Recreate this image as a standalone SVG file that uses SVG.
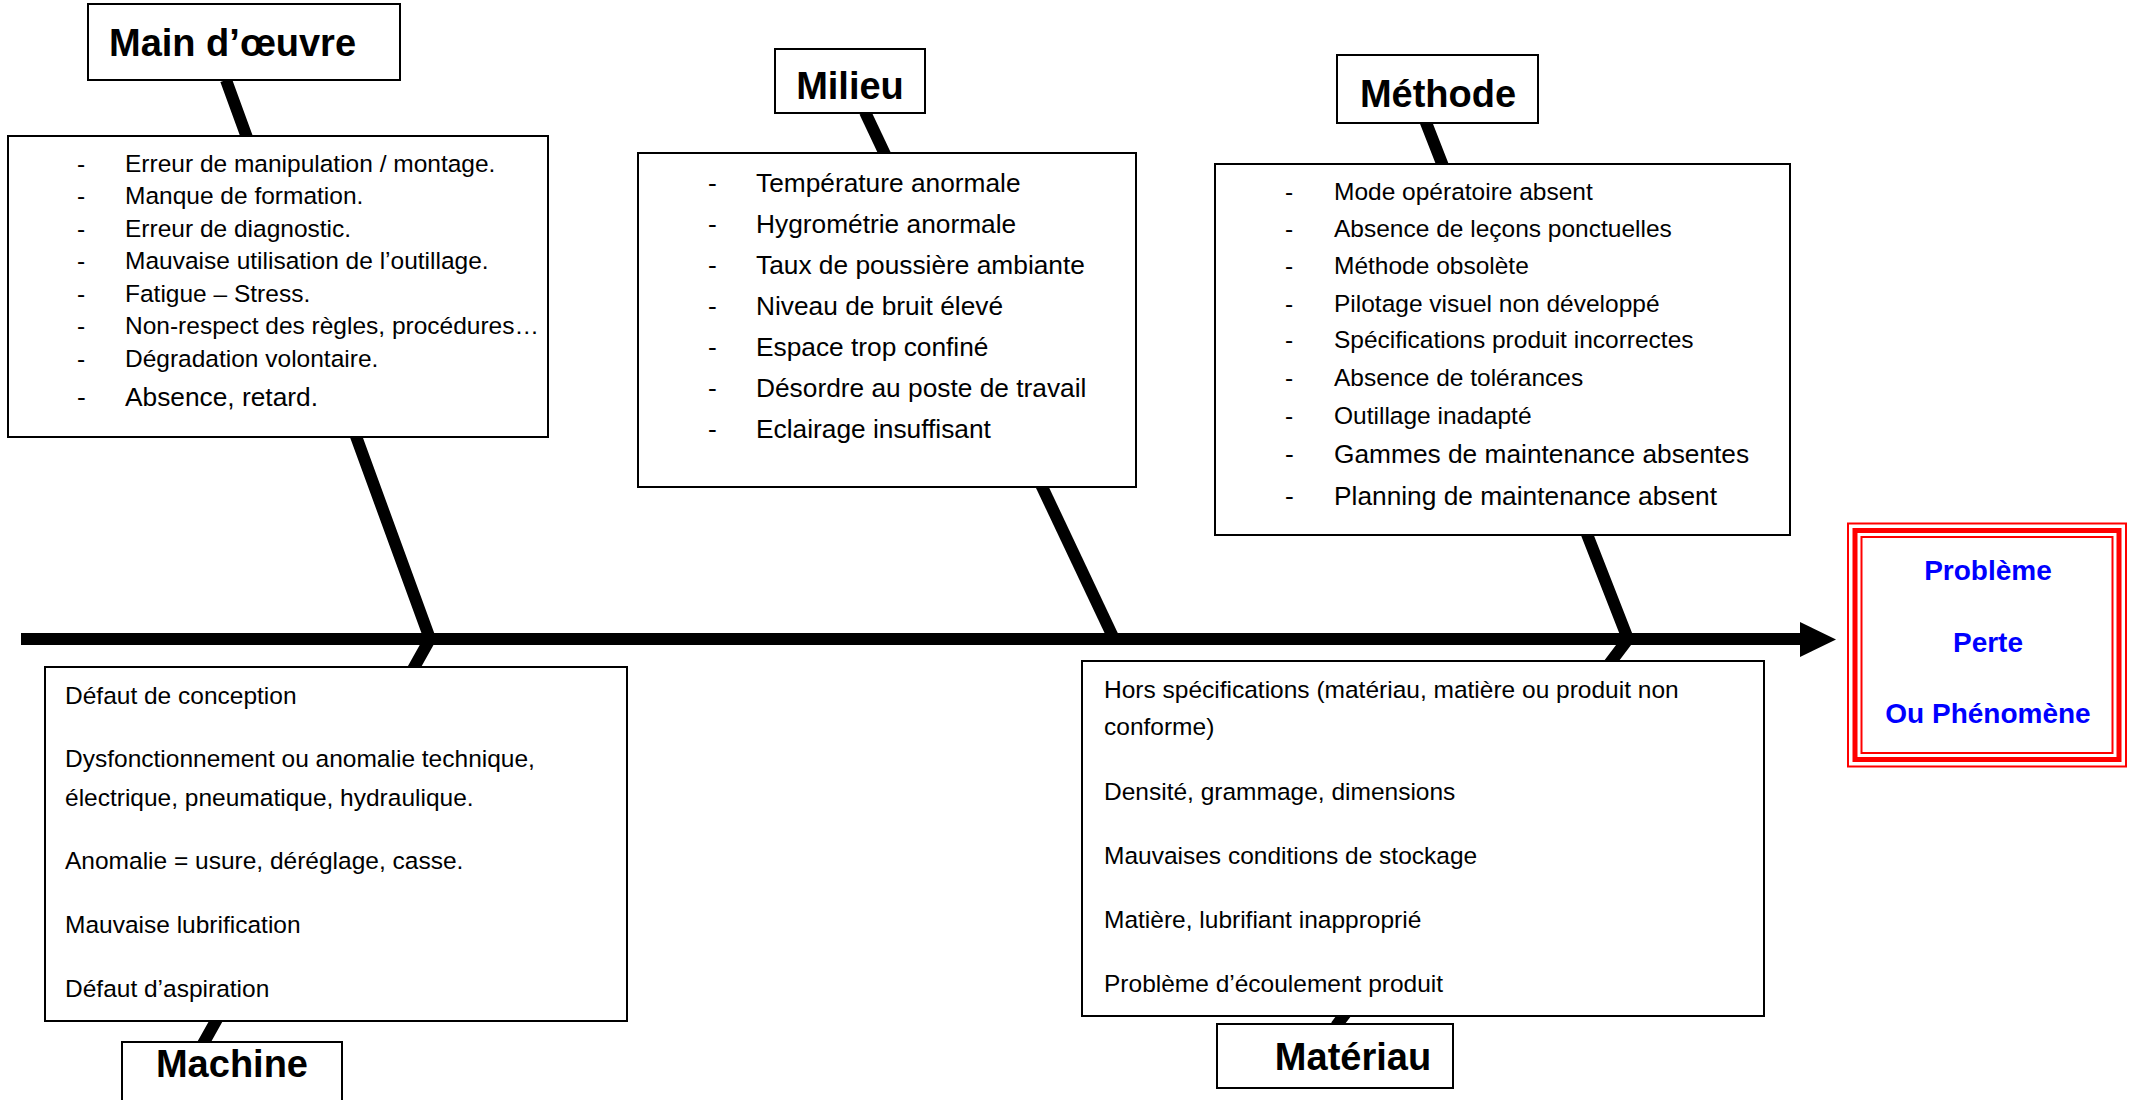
<svg xmlns="http://www.w3.org/2000/svg" width="2129" height="1100" viewBox="0 0 2129 1100">
  <defs>
    <style>
      .bg { fill: #ffffff; }
      .bone { fill: none; stroke: #000000; stroke-width: 12; stroke-linejoin: miter; stroke-miterlimit: 10; }
      .box { fill: #ffffff; stroke: #000000; stroke-width: 2; }
      .cat { font-family: "Liberation Sans", Arial, sans-serif; font-weight: bold; font-size: 38px; fill: #000000; }
      .item { font-family: "Liberation Sans", Arial, sans-serif; font-size: 24.5px; fill: #000000; }
      .item-lg { font-family: "Liberation Sans", Arial, sans-serif; font-size: 26.3px; fill: #000000; }
      .effect-frame { fill: none; stroke: #ff0000; }
      .effect-text { font-family: "Liberation Sans", Arial, sans-serif; font-weight: bold; font-size: 28px; fill: #0000ff; text-anchor: middle; }
    </style>
  </defs>

  <rect class="bg" x="0" y="0" width="2129" height="1100"/>

  <!-- spine and bones -->
  <g id="connectors">
    <line class="bone" x1="21" y1="639" x2="1804" y2="639"/>
    <polygon points="1800,622 1836,639.5 1800,657" fill="#000000"/>
    <!-- Main d'oeuvre (top) + Machine (bottom) -->
    <polyline class="bone" points="226,80 430,639 203,1044"/>
    <!-- Milieu -->
    <polyline class="bone" points="865,112 1114,639"/>
    <!-- Methode (top) + Materiau (bottom) -->
    <polyline class="bone" points="1425,120 1628,639 1336,1026"/>
  </g>

  <!-- Main d'oeuvre -->
  <g id="main-oeuvre">
    <rect class="box" x="88" y="4" width="312" height="76"/>
    <text class="cat" x="109" y="56">Main d’œuvre</text>
  </g>
  <g id="main-oeuvre-causes">
    <rect class="box" x="8" y="136" width="540" height="301"/>
    <g class="item">
      <text x="77" y="172">-</text><text x="125" y="172">Erreur de manipulation / montage.</text>
      <text x="77" y="204">-</text><text x="125" y="204">Manque de formation.</text>
      <text x="77" y="237">-</text><text x="125" y="237">Erreur de diagnostic.</text>
      <text x="77" y="269">-</text><text x="125" y="269">Mauvaise utilisation de l’outillage.</text>
      <text x="77" y="302">-</text><text x="125" y="302">Fatigue – Stress.</text>
      <text x="77" y="334">-</text><text x="125" y="334">Non-respect des règles, procédures…</text>
      <text x="77" y="367">-</text><text x="125" y="367">Dégradation volontaire.</text>
    </g>
    <g class="item-lg">
      <text x="77" y="406">-</text><text x="125" y="406">Absence, retard.</text>
    </g>
  </g>

  <!-- Milieu -->
  <g id="milieu">
    <rect class="box" x="775" y="49" width="150" height="64"/>
    <text class="cat" x="850" y="99" text-anchor="middle">Milieu</text>
  </g>
  <g id="milieu-causes">
    <rect class="box" x="638" y="153" width="498" height="334"/>
    <g class="item-lg">
      <text x="708" y="192">-</text><text x="756" y="192">Température anormale</text>
      <text x="708" y="233">-</text><text x="756" y="233">Hygrométrie anormale</text>
      <text x="708" y="274">-</text><text x="756" y="274">Taux de poussière ambiante</text>
      <text x="708" y="315">-</text><text x="756" y="315">Niveau de bruit élevé</text>
      <text x="708" y="356">-</text><text x="756" y="356">Espace trop confiné</text>
      <text x="708" y="397">-</text><text x="756" y="397">Désordre au poste de travail</text>
      <text x="708" y="438">-</text><text x="756" y="438">Eclairage insuffisant</text>
    </g>
  </g>

  <!-- Methode -->
  <g id="methode">
    <rect class="box" x="1337" y="55" width="201" height="68"/>
    <text class="cat" x="1438" y="107" text-anchor="middle">Méthode</text>
  </g>
  <g id="methode-causes">
    <rect class="box" x="1215" y="164" width="575" height="371"/>
    <g class="item">
      <text x="1285" y="200">-</text><text x="1334" y="200">Mode opératoire absent</text>
      <text x="1285" y="237">-</text><text x="1334" y="237">Absence de leçons ponctuelles</text>
      <text x="1285" y="274">-</text><text x="1334" y="274">Méthode obsolète</text>
      <text x="1285" y="312">-</text><text x="1334" y="312">Pilotage visuel non développé</text>
      <text x="1285" y="348">-</text><text x="1334" y="348">Spécifications produit incorrectes</text>
      <text x="1285" y="386">-</text><text x="1334" y="386">Absence de tolérances</text>
      <text x="1285" y="424">-</text><text x="1334" y="424">Outillage inadapté</text>
    </g>
    <g class="item-lg">
      <text x="1285" y="463">-</text><text x="1334" y="463">Gammes de maintenance absentes</text>
      <text x="1285" y="505">-</text><text x="1334" y="505">Planning de maintenance absent</text>
    </g>
  </g>

  <!-- Machine -->
  <g id="machine-causes">
    <rect class="box" x="45" y="667" width="582" height="354"/>
    <g class="item">
      <text x="65" y="704">Défaut de conception</text>
      <text x="65" y="767">Dysfonctionnement ou anomalie technique,</text>
      <text x="65" y="806">électrique, pneumatique, hydraulique.</text>
      <text x="65" y="869">Anomalie = usure, déréglage, casse.</text>
      <text x="65" y="933">Mauvaise lubrification</text>
      <text x="65" y="997">Défaut d’aspiration</text>
    </g>
  </g>
  <g id="machine">
    <rect class="box" x="122" y="1042" width="220" height="70"/>
    <text class="cat" x="232" y="1077" text-anchor="middle">Machine</text>
  </g>

  <!-- Materiau -->
  <g id="materiau-causes">
    <rect class="box" x="1082" y="661" width="682" height="355"/>
    <g class="item">
      <text x="1104" y="698">Hors spécifications (matériau, matière ou produit non</text>
      <text x="1104" y="735">conforme)</text>
      <text x="1104" y="800">Densité, grammage, dimensions</text>
      <text x="1104" y="864">Mauvaises conditions de stockage</text>
      <text x="1104" y="928">Matière, lubrifiant inapproprié</text>
      <text x="1104" y="992">Problème d’écoulement produit</text>
    </g>
  </g>
  <g id="materiau">
    <rect class="box" x="1217" y="1024" width="236" height="64"/>
    <text class="cat" x="1353" y="1070" text-anchor="middle">Matériau</text>
  </g>

  <!-- effect: triple red frame -->
  <g id="probleme">
    <rect class="effect-frame" x="1848" y="523.5" width="278" height="243" stroke-width="2"/>
    <rect class="effect-frame" x="1855" y="530.5" width="264" height="229" stroke-width="5"/>
    <rect class="effect-frame" x="1861.5" y="537" width="251" height="216" stroke-width="2"/>
    <text class="effect-text" x="1988" y="580">Problème</text>
    <text class="effect-text" x="1988" y="652">Perte</text>
    <text class="effect-text" x="1988" y="723">Ou Phénomène</text>
  </g>
</svg>
